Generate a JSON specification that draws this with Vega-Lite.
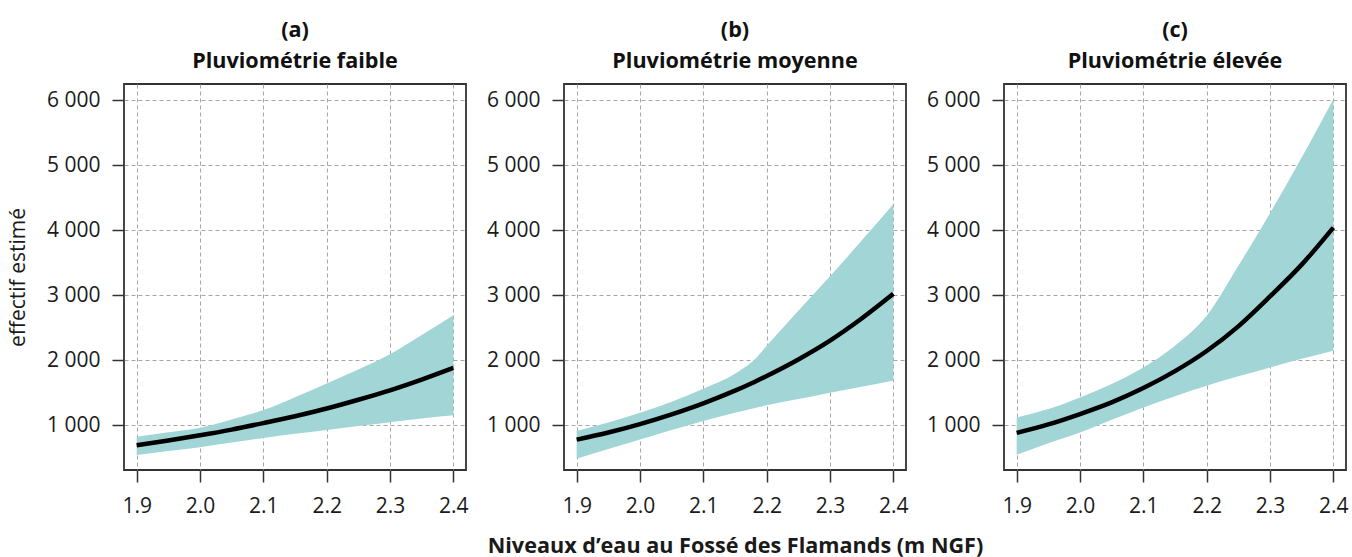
{
  "$schema": "https://vega.github.io/schema/vega-lite/v6.json",
  "padding": {"left": 6, "top": 19, "right": 4, "bottom": 2},
  "background": "white",
  "config": {
    "font": "Open Sans",
    "view": {"stroke": "#333", "strokeWidth": 1.8},
    "axis": {
      "labelFont": "Open Sans", "labelFontSize": 21, "labelColor": "#1a1a1a",
      "tickColor": "#333", "tickWidth": 1.5, "tickSize": 12,
      "domain": false, "grid": true, "gridColor": "#a6a6a6", "gridDash": [4, 3], "gridWidth": 1,
      "titleFont": "Open Sans", "titleFontSize": 21, "titleColor": "#1a1a1a", "titleFontWeight": "normal"
    },
    "axisX": {"labelPadding": 13, "titlePadding": 19},
    "axisY": {"labelPadding": 12, "titlePadding": 18},
    "title": {"font": "Open Sans", "fontSize": 21.6, "fontWeight": "bold", "lineHeight": 31, "offset": 11, "color": "#111"}
  },
  "datasets": {
    "d": [
      {"p": "a", "x": 1.9, "lo": 540, "fit": 690, "hi": 821},
      {"p": "a", "x": 1.95, "lo": 600, "fit": 762, "hi": 890},
      {"p": "a", "x": 2.0, "lo": 660, "fit": 842, "hi": 960},
      {"p": "a", "x": 2.05, "lo": 730, "fit": 930, "hi": 1087},
      {"p": "a", "x": 2.1, "lo": 800, "fit": 1030, "hi": 1230},
      {"p": "a", "x": 2.15, "lo": 865, "fit": 1136, "hi": 1430},
      {"p": "a", "x": 2.2, "lo": 925, "fit": 1255, "hi": 1640},
      {"p": "a", "x": 2.25, "lo": 985, "fit": 1390, "hi": 1856},
      {"p": "a", "x": 2.3, "lo": 1045, "fit": 1535, "hi": 2090},
      {"p": "a", "x": 2.35, "lo": 1100, "fit": 1700, "hi": 2385},
      {"p": "a", "x": 2.4, "lo": 1150, "fit": 1880, "hi": 2690},
      {"p": "b", "x": 1.9, "lo": 480, "fit": 775, "hi": 910},
      {"p": "b", "x": 1.95, "lo": 630, "fit": 885, "hi": 1040},
      {"p": "b", "x": 2.0, "lo": 779, "fit": 1015, "hi": 1190},
      {"p": "b", "x": 2.05, "lo": 925, "fit": 1165, "hi": 1360},
      {"p": "b", "x": 2.1, "lo": 1062, "fit": 1335, "hi": 1560},
      {"p": "b", "x": 2.15, "lo": 1190, "fit": 1530, "hi": 1790},
      {"p": "b", "x": 2.18, "lo": 1260, "fit": 1660, "hi": 2000},
      {"p": "b", "x": 2.2, "lo": 1303, "fit": 1755, "hi": 2220},
      {"p": "b", "x": 2.25, "lo": 1400, "fit": 2010, "hi": 2760},
      {"p": "b", "x": 2.3, "lo": 1497, "fit": 2300, "hi": 3290},
      {"p": "b", "x": 2.35, "lo": 1590, "fit": 2640, "hi": 3840},
      {"p": "b", "x": 2.4, "lo": 1687, "fit": 3020, "hi": 4400},
      {"p": "c", "x": 1.9, "lo": 543, "fit": 880, "hi": 1118},
      {"p": "c", "x": 1.95, "lo": 720, "fit": 1010, "hi": 1246},
      {"p": "c", "x": 2.0, "lo": 885, "fit": 1170, "hi": 1426},
      {"p": "c", "x": 2.05, "lo": 1080, "fit": 1350, "hi": 1631},
      {"p": "c", "x": 2.1, "lo": 1272, "fit": 1570, "hi": 1887},
      {"p": "c", "x": 2.15, "lo": 1445, "fit": 1830, "hi": 2221},
      {"p": "c", "x": 2.2, "lo": 1605, "fit": 2140, "hi": 2682},
      {"p": "c", "x": 2.25, "lo": 1750, "fit": 2520, "hi": 3451},
      {"p": "c", "x": 2.3, "lo": 1887, "fit": 2980, "hi": 4262},
      {"p": "c", "x": 2.35, "lo": 2020, "fit": 3470, "hi": 5118},
      {"p": "c", "x": 2.4, "lo": 2144, "fit": 4040, "hi": 6015}
    ]
  },
  "data": {"name": "d"},
  "bounds": "flush",
  "spacing": 98,
  "hconcat": [
    {
      "width": 342, "height": 386,
      "title": {"text": ["(a)", "Pluviométrie faible"]},
      "transform": [{"filter": "datum.p == 'a'"}],
      "encoding": {
        "x": {"field": "x", "type": "quantitative", "scale": {"domain": [1.88, 2.42], "nice": false, "zero": false},
              "axis": {"values": [1.9, 2.0, 2.1, 2.2, 2.3, 2.4], "format": ".1f", "title": null}}
      },
      "layer": [
        {"mark": {"type": "area", "color": "#a1d5d6", "opacity": 1, "interpolate": "monotone"},
         "encoding": {
           "y": {"field": "lo", "type": "quantitative", "scale": {"domain": [308, 6251], "nice": false, "zero": false},
                 "axis": {"values": [1000, 2000, 3000, 4000, 5000, 6000], "labelExpr": "replace(format(datum.value, ','), ',', ' ')", "title": "effectif estimé"}},
           "y2": {"field": "hi"}
         }},
        {"mark": {"type": "line", "color": "#000", "strokeWidth": 4.5, "interpolate": "monotone"},
         "encoding": {"y": {"field": "fit", "type": "quantitative", "axis": {"title": "effectif estimé"}}}}
      ]
    },
    {
      "width": 342, "height": 386,
      "title": {"text": ["(b)", "Pluviométrie moyenne"]},
      "transform": [{"filter": "datum.p == 'b'"}],
      "encoding": {
        "x": {"field": "x", "type": "quantitative", "scale": {"domain": [1.88, 2.42], "nice": false, "zero": false},
              "axis": {"values": [1.9, 2.0, 2.1, 2.2, 2.3, 2.4], "format": ".1f", "title": "Niveaux d’eau au Fossé des Flamands (m NGF)", "titleFontWeight": "bold", "titleFontSize": 21.6}}
      },
      "layer": [
        {"mark": {"type": "area", "color": "#a1d5d6", "opacity": 1, "interpolate": "monotone"},
         "encoding": {
           "y": {"field": "lo", "type": "quantitative", "scale": {"domain": [308, 6251], "nice": false, "zero": false},
                 "axis": {"values": [1000, 2000, 3000, 4000, 5000, 6000], "labelExpr": "replace(format(datum.value, ','), ',', ' ')", "title": null}},
           "y2": {"field": "hi"}
         }},
        {"mark": {"type": "line", "color": "#000", "strokeWidth": 4.5, "interpolate": "monotone"},
         "encoding": {"y": {"field": "fit", "type": "quantitative", "axis": {"title": null}}}}
      ]
    },
    {
      "width": 342, "height": 386,
      "title": {"text": ["(c)", "Pluviométrie élevée"]},
      "transform": [{"filter": "datum.p == 'c'"}],
      "encoding": {
        "x": {"field": "x", "type": "quantitative", "scale": {"domain": [1.88, 2.42], "nice": false, "zero": false},
              "axis": {"values": [1.9, 2.0, 2.1, 2.2, 2.3, 2.4], "format": ".1f", "title": null}}
      },
      "layer": [
        {"mark": {"type": "area", "color": "#a1d5d6", "opacity": 1, "interpolate": "monotone"},
         "encoding": {
           "y": {"field": "lo", "type": "quantitative", "scale": {"domain": [308, 6251], "nice": false, "zero": false},
                 "axis": {"values": [1000, 2000, 3000, 4000, 5000, 6000], "labelExpr": "replace(format(datum.value, ','), ',', ' ')", "title": null}},
           "y2": {"field": "hi"}
         }},
        {"mark": {"type": "line", "color": "#000", "strokeWidth": 4.5, "interpolate": "monotone"},
         "encoding": {"y": {"field": "fit", "type": "quantitative", "axis": {"title": null}}}}
      ]
    }
  ]
}
